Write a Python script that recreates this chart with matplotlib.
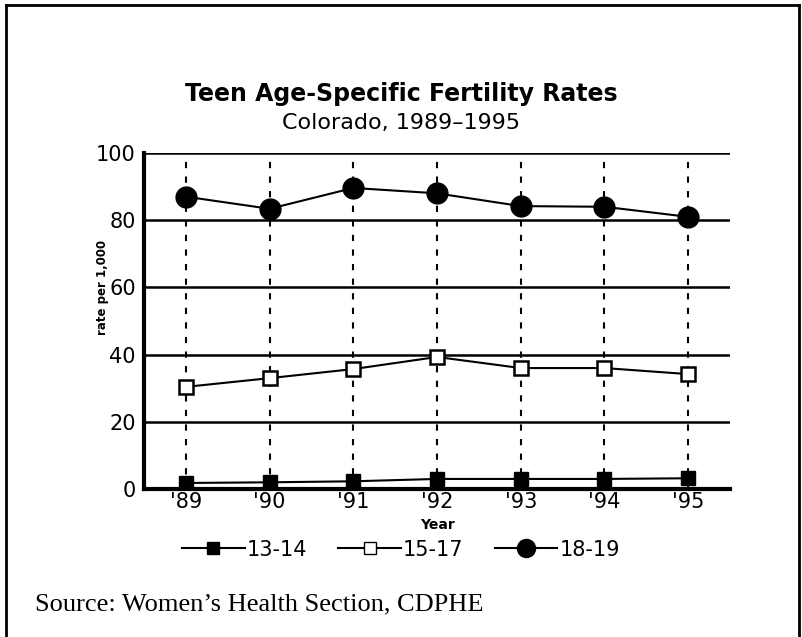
import matplotlib.pyplot as plt
from matplotlib.lines import Line2D

# values (rate per 1,000)
years = [89, 90, 91, 92, 93, 94, 95]
year_labels = ["'89", "'90", "'91", "'92", "'93", "'94", "'95"]
age_13_14 = [1.8, 2.0, 2.3, 3.0, 3.0, 3.0, 3.2]
age_15_17 = [30.4, 33.0, 35.7, 39.3, 36.0, 36.0, 34.2]
age_18_19 = [87.0, 83.4, 89.6, 88.0, 84.2, 84.0, 81.0]
y_ticks = [0, 20, 40, 60, 80, 100]

fig = plt.figure(figsize=(8.02, 6.37), dpi=100)
ax = fig.add_axes([0.1796, 0.2323, 0.7307, 0.5275])

# grid: solid horizontals, dashed verticals
for yv in y_ticks[1:]:
    ax.axhline(yv, color='black', lw=1.8, zorder=1)
for x in years:
    ax.plot([x, x], [0, 100], color='black', lw=1.5, ls=(0, (3, 4)), zorder=1)

ax.plot(years, age_13_14, color='black', lw=1.5, marker='s', ms=10,
        mfc='black', mec='black', zorder=3)
ax.plot(years, age_15_17, color='black', lw=1.5, marker='s', ms=10,
        mfc='white', mec='black', mew=1.8, zorder=3)
ax.plot(years, age_18_19, color='black', lw=1.5, marker='o', ms=15,
        mfc='black', mec='black', zorder=3)

ax.set_xlim(88.5, 95.5)
ax.set_ylim(0, 100)
ax.set_xticks(years)
ax.set_xticklabels(year_labels, fontsize=15)
ax.set_yticks(y_ticks)
ax.set_yticklabels([str(v) for v in y_ticks], fontsize=15)
ax.tick_params(length=0, pad=6)
ax.tick_params(axis='x', pad=2)
for side in ['top', 'right']:
    ax.spines[side].set_visible(False)
for side in ['left', 'bottom']:
    ax.spines[side].set_linewidth(3)
ax.set_xlabel('Year', fontsize=10, fontweight='bold')
ax.xaxis.set_label_coords(0.5, -0.085)
ax.set_ylabel('rate per 1,000', fontsize=8.5, fontweight='bold')
ax.yaxis.set_label_coords(-0.06, 0.6)

fig.text(0.5, 0.842, 'Teen Age-Specific Fertility Rates', ha='center',
         fontsize=17, fontweight='bold')
fig.text(0.5, 0.797, 'Colorado, 1989\u20131995', ha='center', fontsize=16)

handles = [
    Line2D([], [], color='black', lw=1.5, marker='s', ms=9, mfc='black'),
    Line2D([], [], color='black', lw=1.5, marker='s', ms=9, mfc='white'),
    Line2D([], [], color='black', lw=1.5, marker='o', ms=13, mfc='black'),
]
fig.legend(handles, ['13-14', '15-17', '18-19'], loc='center',
           bbox_to_anchor=(0.5, 0.137), ncol=3, frameon=False, fontsize=15,
           handlelength=3.0, handletextpad=0.1, columnspacing=1.5)

fig.text(0.044, 0.042, 'Source: Women\u2019s Health Section, CDPHE',
         fontsize=19, family='Liberation Serif')

# page frame
fig.add_artist(Line2D([0.007, 0.007], [0, 0.992], color='black', lw=2,
                      transform=fig.transFigure))
fig.add_artist(Line2D([0.007, 0.996], [0.992, 0.992], color='black', lw=2,
                      transform=fig.transFigure))
fig.add_artist(Line2D([0.996, 0.996], [0, 0.992], color='black', lw=2,
                      transform=fig.transFigure))

fig.savefig('out.png', dpi=100)
